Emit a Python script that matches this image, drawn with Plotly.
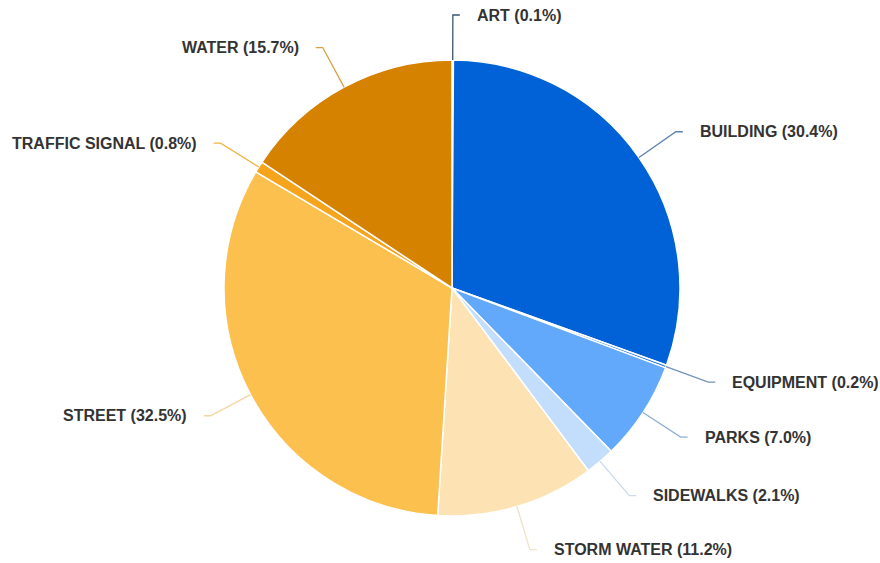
import math
import plotly.graph_objects as go

categories = ["ART", "BUILDING", "EQUIPMENT", "PARKS", "SIDEWALKS",
              "STORM WATER", "STREET", "TRAFFIC SIGNAL", "WATER"]
values = [0.1, 30.4, 0.2, 7.0, 2.1, 11.2, 32.5, 0.8, 15.7]
colors = ["#1d4f8c", "#0062d6", "#2a80e8", "#62a8fb", "#c2defc",
          "#fde3b3", "#fcc04e", "#f5a41c", "#d48200"]
line_colors = ["#3b5670", "#5f82ad", "#7393b8", "#8fb0d4", "#c9dbec",
               "#efe2c6", "#f2d6a2", "#f0b440", "#d9a040"]

W, H = 880, 563
cx, cy, R = 452, 288, 228
ext, hor, gap = 45, 7, 15

fig = go.Figure(go.Pie(
    labels=categories, values=values, sort=False, direction="clockwise",
    rotation=0, textinfo="none", hoverinfo="skip",
    marker=dict(colors=colors, line=dict(color="white", width=1.5)),
    domain=dict(x=[(cx - R) / W, (cx + R) / W], y=[1 - (cy + R) / H, 1 - (cy - R) / H]),
    showlegend=False,
))

def px(x):
    return x / W

def py(y):
    return 1 - y / H

total = sum(values)
cum = 0.0
shapes, annotations = [], []
for cat, v, lc in zip(categories, values, line_colors):
    mid = (cum + v / 2) / total * 2 * math.pi
    cum += v
    s, c = math.sin(mid), math.cos(mid)
    x0, y0 = cx + R * s, cy - R * c
    x1, y1 = cx + (R + ext) * s, cy - (R + ext) * c
    side = 1 if s >= 0 else -1
    x2 = x1 + side * hor
    path = f"M {px(x0)},{py(y0)} L {px(x1)},{py(y1)} L {px(x2)},{py(y1)}"
    shapes.append(dict(type="path", xref="paper", yref="paper", path=path,
                       line=dict(color=lc, width=1.3)))
    pct = v / total * 100
    annotations.append(dict(
        x=px(x2 + side * gap), y=py(y1), xref="paper", yref="paper",
        text=f"<b>{cat} ({pct:.1f}%)</b>", showarrow=False,
        xanchor="left" if side > 0 else "right", yanchor="middle",
        font=dict(family="Liberation Sans, Arial, sans-serif", size=16, color="#333333"),
    ))

fig.update_layout(width=W, height=H, margin=dict(l=0, r=0, t=0, b=0),
                  paper_bgcolor="white", plot_bgcolor="white",
                  shapes=shapes, annotations=annotations)
fig.write_html("out.html")
